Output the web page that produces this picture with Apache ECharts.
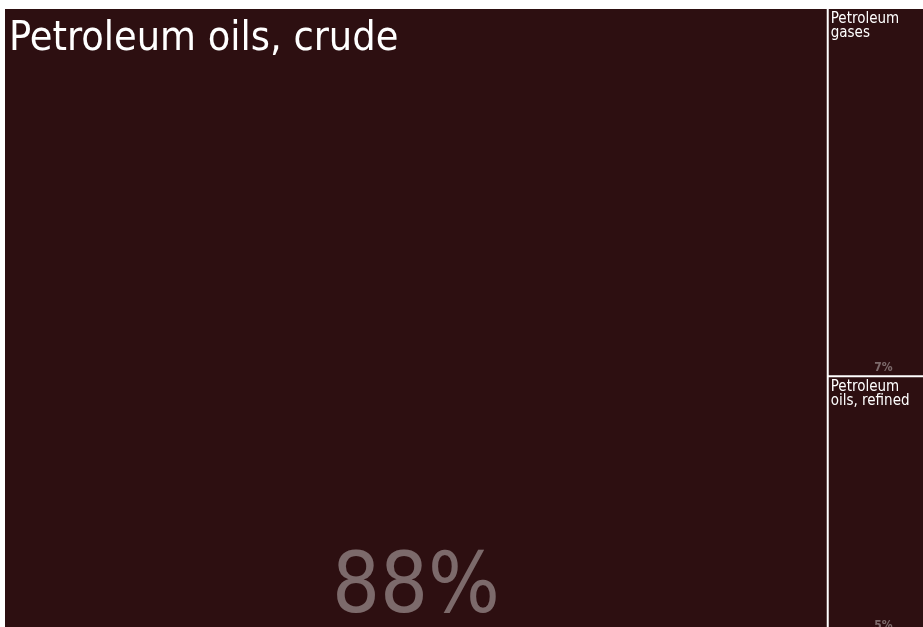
<!DOCTYPE html>
<html>
<head>
<meta charset="utf-8">
<script src="https://cdn.jsdelivr.net/npm/echarts@6/dist/echarts.min.js"></script>
<style>
  html, body { margin: 0; padding: 0; background: #fff; }
  #chart { width: 923px; height: 627px; }
</style>
</head>
<body>
<div id="chart"></div>
<script>
// export shares, percent
const names = ["Petroleum oils, crude", "Petroleum gases", "Petroleum oils, refined"];
const shares = [88.1, 7.0, 4.9];
const labelNames = ["Petroleum oils, crude", "Petroleum\ngases", "Petroleum\noils, refined"];

const font = '"Liberation Sans Narrow", "DejaVu Sans Condensed", sans-serif';
const nameSizes = [41, 15, 15];
const pctSizes = [84, 12, 12];
const cellColor = "#2d0f11";

const chart = echarts.init(document.getElementById("chart"));

const box = { left: 5, top: 9, width: 933, height: 624 };

const nameData = names.map((n, i) => ({
  name: n,
  value: shares[i],
  itemStyle: { color: cellColor },
  label: {
    formatter: labelNames[i],
    fontSize: nameSizes[i],
    lineHeight: Math.round(nameSizes[i] * 0.95),
    padding: i === 0 ? [10, 2, 0, 3] : [2, 0, 0, 1]
  }
}));

const pctData = names.map((n, i) => ({
  name: n,
  value: shares[i],
  itemStyle: { color: "rgba(0,0,0,0)" },
  label: {
    formatter: Math.round(shares[i]) + "%",
    fontSize: pctSizes[i],
    fontWeight: i === 0 ? "normal" : "bold",
    lineHeight: i === 0 ? 76 : 4
  }
}));

const common = Object.assign({
  type: "treemap",
  roam: false,
  nodeClick: false,
  breadcrumb: { show: false },
  animation: false,
  squareRatio: 0.5 * (1 + Math.sqrt(5))
}, box);

chart.setOption({
  tooltip: { show: false },
  series: [
    Object.assign({}, common, {
      levels: [{ itemStyle: { gapWidth: 2, borderWidth: 0, borderColor: "#e8e4e4" } }],
      itemStyle: { borderWidth: 0 },
      label: {
        show: true,
        position: "insideTopLeft",
        distance: 1,
        color: "#ffffff",
        fontFamily: font
      },
      data: nameData
    }),
    Object.assign({}, common, {
      silent: true,
      levels: [{ itemStyle: { gapWidth: 2, borderWidth: 0 } }],
      itemStyle: { borderWidth: 0 },
      label: {
        show: true,
        position: "insideBottom",
        distance: 0,
        color: "rgba(255,255,255,0.38)",
        fontFamily: font
      },
      data: pctData
    })
  ]
});
</script>
</body>
</html>
